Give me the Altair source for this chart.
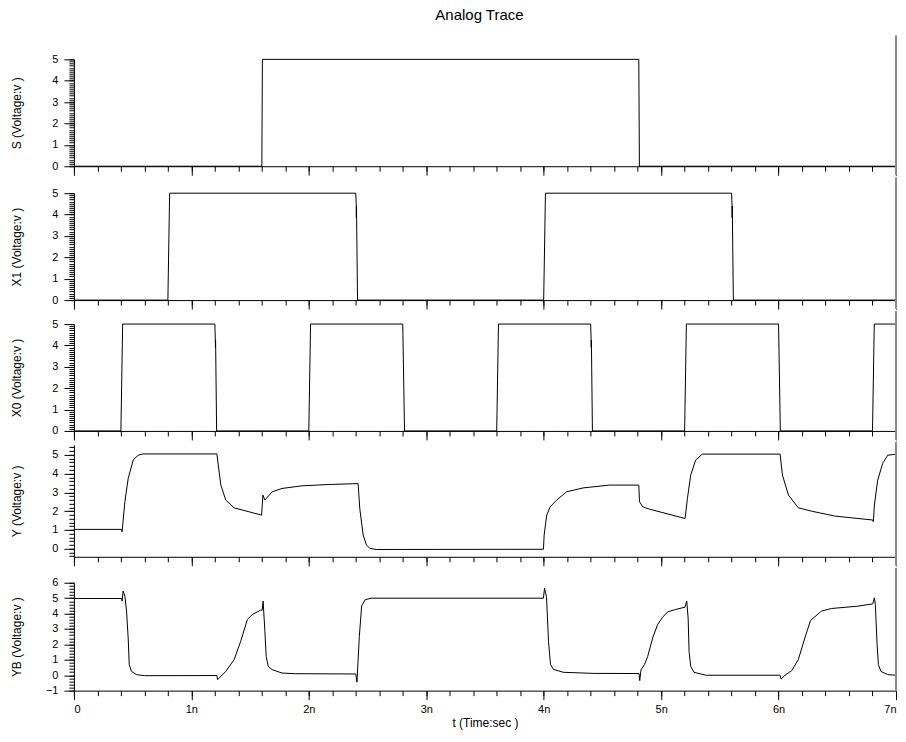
import altair as alt
import pandas as pd
import numpy as np

chart_title = "Analog Trace"
x_title = "t (Time:sec )"
font = "Liberation Sans"

# ---- traces (time in ns, voltage in V) ----
s_t = [0.0, 1.60, 1.605, 4.81, 4.815, 7.0]
s_v = [0, 0, 5, 5, 0, 0]

x1_t = [0.0, 0.80, 0.815, 2.40, 2.404, 2.405, 2.406, 2.407, 2.415, 4.00, 4.015,
        5.60, 5.604, 5.605, 5.606, 5.607, 5.615, 7.0]
x1_v = [0, 0, 5, 5, 4.4, 3.85, 4.4, 3.85, 0, 0, 5, 5, 4.4, 3.85, 4.4, 3.85, 0, 0]

x0_t = [0.0, 0.40, 0.415, 1.20, 1.204, 1.205, 1.206, 1.207, 1.215, 2.00, 2.015,
        2.80, 2.815, 3.60, 3.615, 4.40, 4.404, 4.405, 4.406, 4.407, 4.415,
        5.20, 5.215, 6.00, 6.015, 6.80, 6.815, 7.0]
x0_v = [0, 0, 5, 5, 4.25, 3.9, 4.25, 3.9, 0, 0, 5, 5, 0, 0, 5, 5, 4.25, 3.9, 4.25,
        3.9, 0, 0, 5, 5, 0, 0, 5, 5]

y_t = [0, 0.405, 0.41, 0.434, 0.462, 0.505, 0.547, 0.589, 1.217, 1.251, 1.293,
       1.364, 1.598, 1.609, 1.626, 1.688, 1.772, 1.941, 2.167, 2.42, 2.434, 2.463,
       2.491, 2.519, 2.575, 3.998, 4.004, 4.026, 4.055, 4.11, 4.195, 4.336, 4.562,
       4.81, 4.816, 4.844, 4.9, 5.204, 5.224, 5.252, 5.294, 5.351, 6.013, 6.033,
       6.084, 6.168, 6.281, 6.478, 6.802, 6.807, 6.816, 6.844, 6.886, 6.929, 7.0]
y_v = [1.03, 1.03, 0.9, 2.5, 3.74, 4.73, 4.98, 5.05, 5.05, 3.39, 2.59, 2.18, 1.79,
       2.86, 2.59, 3.03, 3.21, 3.35, 3.42, 3.47, 2.14, 0.73, 0.2, 0.02, -0.04, -0.03,
       0.73, 1.79, 2.23, 2.59, 3.03, 3.24, 3.39, 3.39, 2.5, 2.23, 2.11, 1.61, 2.68,
       3.92, 4.72, 5.04, 5.04, 3.92, 2.86, 2.18, 2.0, 1.74, 1.53, 1.44, 2.32, 3.65,
       4.54, 4.98, 5.04]

yb_t = [0, 0.405, 0.41, 0.419, 0.434, 0.448, 0.462, 0.471, 0.49, 0.533, 0.603,
        1.217, 1.223, 1.293, 1.364, 1.42, 1.477, 1.519, 1.589, 1.603, 1.611, 1.626,
        1.637, 1.654, 1.688, 1.772, 1.885, 2.40, 2.41, 2.43, 2.45, 2.48, 2.53,
        3.998, 4.007, 4.024, 4.041, 4.058, 4.083, 4.167, 4.421, 4.812, 4.818, 4.829,
        4.858, 4.886, 4.928, 4.97, 5.013, 5.055, 5.125, 5.204, 5.218, 5.23, 5.238,
        5.252, 5.28, 5.379, 6.013, 6.021, 6.055, 6.112, 6.168, 6.224, 6.272, 6.365,
        6.45, 6.675, 6.802, 6.816, 6.824, 6.839, 6.85, 6.872, 6.929, 7.0]
yb_v = [4.98, 4.98, 4.81, 5.46, 5.13, 4.16, 2.42, 0.69, 0.25, 0.04, -0.03, -0.02,
        -0.29, 0.25, 1.01, 2.2, 3.62, 3.94, 4.22, 4.22, 4.81, 2.86, 1.23, 0.58, 0.36,
        0.14, 0.10, 0.08, -0.45, 2.5, 4.5, 4.9, 5.0, 5.0, 5.65, 5.1, 2.2, 0.7, 0.38,
        0.19, 0.12, 0.11, -0.35, 0.36, 0.69, 1.23, 2.42, 3.29, 3.77, 4.11, 4.27, 4.42,
        4.81, 3.72, 1.55, 0.58, 0.19, 0.0, 0.0, -0.25, 0.0, 0.3, 1.01, 2.42, 3.55,
        4.16, 4.33, 4.48, 4.63, 5.02, 4.59, 1.99, 0.69, 0.25, 0.04, 0.0]

x_major = list(range(0, 8))
x_minor = [round(v, 1) for v in np.arange(0, 7.01, 0.2)]

W = 823
XTICK = 9


def panel(t, v, ytitle, domain, height, gap, ymajor, yminor, bottom=False):
    df = pd.DataFrame({"t": t, "v": v, "i": list(range(len(t)))})
    xs = alt.Scale(domain=[0, 7], nice=False, zero=False)
    ys = alt.Scale(domain=domain, nice=False, zero=False)
    minor = alt.Chart(df).mark_line(opacity=0).encode(
        x=alt.X("t:Q", scale=xs, axis=alt.Axis(values=x_minor, tickSize=5, labels=False,
                                                 domain=False, grid=False, title=None,
                                                 orient="bottom")),
        y=alt.Y("v:Q", scale=ys, axis=alt.Axis(values=yminor, tickSize=5, labels=False,
                                                 domain=False, grid=False, title=None,
                                                 orient="left")),
        order="i:Q",
    )
    xaxis = alt.Axis(values=x_major, tickSize=XTICK, grid=False, orient="bottom",
                     labels=bottom, labelPadding=4, labelFlush=True,
                     labelExpr="datum.value == 0 ? '0' : datum.value + 'n'",
                     title=x_title if bottom else None, titlePadding=3)
    yaxis = alt.Axis(values=ymajor, tickSize=10, labelPadding=6, grid=False,
                     orient="left", title=ytitle, titleX=-57, titleBaseline="middle")
    line = alt.Chart(df).mark_line(color="black", strokeWidth=1).encode(
        x=alt.X("t:Q", scale=xs, axis=xaxis),
        y=alt.Y("v:Q", scale=ys, axis=yaxis),
        order="i:Q",
    )
    edge = alt.Chart(df).mark_rule(color="#8a8a8a", strokeWidth=2).encode(
        x=alt.X("max(t):Q", scale=xs, axis=None),
        y=alt.value(-(gap - XTICK) if gap > XTICK else 0),
        y2=alt.value(height if bottom else height + XTICK),
    )
    return alt.layer(minor, line, edge).resolve_axis(
        x="independent", y="independent").properties(width=W, height=height)


def steps(a, b, s):
    return [round(x, 1) for x in np.arange(a, b + 1e-9, s)]


p_s = panel(s_t, s_v, "S (Voltage:v )", [0, 5], 107, 33, list(range(0, 6)), steps(0, 5, 0.1))
p_x1 = panel(x1_t, x1_v, "X1 (Voltage:v )", [0, 5], 107, 25, list(range(0, 6)), steps(0, 5, 0.1))
p_x0 = panel(x0_t, x0_v, "X0 (Voltage:v )", [0, 5], 107, 22, list(range(0, 6)), steps(0, 5, 0.1))
p_y = panel(y_t, y_v, "Y (Voltage:v )", [-0.43, 5.53], 112, 12, list(range(0, 6)), steps(-0.4, 5.4, 0.2))
p_yb = panel(yb_t, yb_v, "YB (Voltage:v )", [-1, 6], 108, 24, list(range(-1, 7)), steps(-1, 6, 0.2), bottom=True)

chart = alt.vconcat(p_s, p_x1, p_x0, p_y, p_yb, spacing=0).properties(
    title=alt.TitleParams(chart_title, fontSize=15, font=font, fontWeight="normal",
                          anchor="middle", offset=11, dx=25, color="black"),
    padding={"left": 2, "top": 0, "right": 0, "bottom": 4},
).configure_view(stroke=None).configure_axis(
    labelFont=font, titleFont=font, labelFontSize=11, titleFontSize=12,
    titleFontWeight="normal", labelColor="black", titleColor="black",
    domainColor="black", tickColor="black", domainWidth=1, tickWidth=1,
)

chart.save("out.html", embed_options={"renderer": "svg", "actions": False})
